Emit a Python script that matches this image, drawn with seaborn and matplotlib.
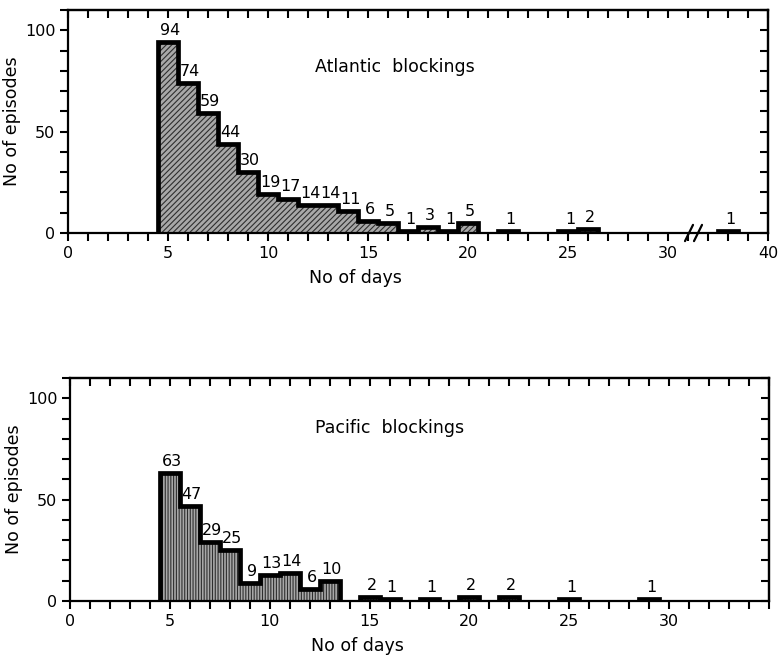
import numpy as np
import pandas as pd
import matplotlib
matplotlib.use("Agg")
import matplotlib.pyplot as plt
import seaborn as sns
from matplotlib.ticker import FixedLocator, MultipleLocator, NullFormatter

# ---- data ----
atl_days = [5, 6, 7, 8, 9, 10, 11, 12, 13, 14, 15, 16, 17, 18, 19, 20, 22, 25, 26, 38]
atl_counts = [94, 74, 59, 44, 30, 19, 17, 14, 14, 11, 6, 5, 1, 3, 1, 5, 1, 1, 2, 1]
pac_days = [5, 6, 7, 8, 9, 10, 11, 12, 13, 15, 16, 18, 20, 22, 25, 29]
pac_counts = [63, 47, 29, 25, 9, 13, 14, 6, 10, 2, 1, 1, 2, 2, 1, 1]
atl_tick_labels = ["0", "5", "10", "15", "20", "25", "30", "40"]
pac_tick_labels = ["0", "5", "10", "15", "20", "25", "30"]
y_tick_labels = ["0", "50", "100"]
atl_title = "Atlantic  blockings"
pac_title = "Pacific  blockings"
xlabel = "No of days"
ylabel = "No of episodes"

# axis break on the Atlantic panel: days above 31 are shifted left by 5
BREAK_AT, BREAK_GAP = 31, 5

sns.set_theme(style="ticks")
plt.rcParams["font.family"] = ["DejaVu Sans"]
plt.rcParams["hatch.linewidth"] = 0.8

fig = plt.figure(figsize=(7.78, 6.67), dpi=100)
fig.patch.set_facecolor("white")
ax1 = fig.add_axes([68 / 778, 1 - 233 / 667, 700 / 778, 223 / 667])
ax2 = fig.add_axes([70 / 778, 1 - 601 / 667, 699 / 778, 223 / 667])


def panel(ax, days, counts, hatch, title, title_xy, tick_labels, brk):
    disp = [d - BREAK_GAP if (brk and d > BREAK_AT) else d for d in days]
    df = pd.DataFrame({"day": disp, "n": counts})
    sns.histplot(data=df, x="day", weights="n", discrete=True, ax=ax,
                 element="bars", fill=True, linewidth=0)
    for p in ax.patches:
        p.set_facecolor("#a8a8a8")
        p.set_edgecolor("#2e2e2e")
        p.set_hatch(hatch)
        p.set_linewidth(0)
        p.set_alpha(1)
    # step outline (gaps where there is no episode)
    full = pd.Series(counts, index=disp, dtype=float).reindex(
        range(min(disp), max(disp) + 1))
    edges = np.arange(min(disp) - 0.5, max(disp) + 1.0, 1.0)
    ax.stairs(full.to_numpy(), edges, baseline=0, fill=False,
              color="black", linewidth=3.4, joinstyle="miter", zorder=3)
    for x, c in zip(disp, counts):
        ax.text(x + 0.1, c + 2.0, str(c), ha="center", va="bottom",
                fontsize=11.5, color="black", zorder=4)
    ax.text(title_xy[0], title_xy[1], title, ha="center", va="center",
            fontsize=12.5, color="black")

    ax.set_xlim(0, 35)
    ax.set_ylim(0, 110)
    ticks = [0, 5, 10, 15, 20, 25, 30, 35]
    ax.xaxis.set_major_locator(FixedLocator(ticks))
    ax.set_xticklabels(tick_labels + [""] * (len(ticks) - len(tick_labels)))
    ax.xaxis.set_minor_locator(MultipleLocator(1))
    ax.yaxis.set_major_locator(FixedLocator([0, 50, 100]))
    ax.set_yticklabels(y_tick_labels)
    ax.yaxis.set_minor_locator(MultipleLocator(10))
    ax.tick_params(which="both", direction="out", length=6, width=1.5,
                   labelsize=11.5, color="black", labelcolor="black", pad=3)
    for s in ax.spines.values():
        s.set_visible(True)
        s.set_linewidth(1.6)
        s.set_color("black")
    ax.set_facecolor("white")
    ax.grid(False)

    top = ax.secondary_xaxis("top")
    top.xaxis.set_major_locator(MultipleLocator(1))
    top.xaxis.set_major_formatter(NullFormatter())
    top.tick_params(direction="in", length=6, width=1.5, color="black")
    top.spines["top"].set_linewidth(1.6)
    right = ax.secondary_yaxis("right")
    right.yaxis.set_major_locator(MultipleLocator(10))
    right.yaxis.set_major_formatter(NullFormatter())
    right.tick_params(direction="in", length=6, width=1.5, color="black")
    right.spines["right"].set_linewidth(1.6)

    ax.set_xlabel(xlabel, fontsize=12.5, color="black")
    ax.xaxis.set_label_coords(0.411, -0.16)
    ax.set_ylabel(ylabel, fontsize=12.5, color="black", labelpad=3)


panel(ax1, atl_days, atl_counts, "//////", atl_title, (16.35, 82),
      atl_tick_labels, True)
panel(ax2, pac_days, pac_counts, "||||||", pac_title, (16.0, 85.5),
      pac_tick_labels, False)

# axis-break marks on the Atlantic panel
bx = 31.1
for dx in (0.0, 0.45):
    ax1.plot([bx - 0.25 + dx, bx + 0.15 + dx], [-4, 4], color="black",
             linewidth=1.6, clip_on=False, zorder=5)

fig.savefig("out.png", dpi=100, facecolor="white")
